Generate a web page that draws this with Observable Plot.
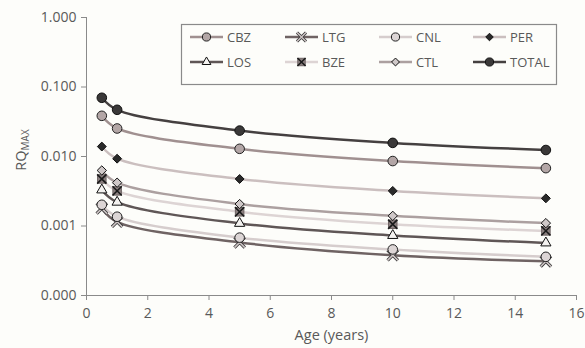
<!DOCTYPE html>
<html><head><meta charset="utf-8">
<script src="https://cdn.jsdelivr.net/npm/d3@7"></script>
<script src="https://cdn.jsdelivr.net/npm/@observablehq/plot@0.6"></script>
<style>
body{margin:0;background:#fdfdfa;}
#wrap{position:relative;width:585px;height:348px;font-family:"Open Sans",sans-serif;}
#legend{position:absolute;left:0;top:0;pointer-events:none;}
</style></head>
<body><div id="wrap"></div>
<script>
const ages = [0.5, 1, 5, 10, 15];
const seriesNames = ["CBZ","LTG","CNL","PER","LOS","BZE","CTL","TOTAL"];
const CBZ   = [0.0385, 0.0253, 0.0129, 0.0086, 0.0068];
const LTG   = [0.00179, 0.00115, 0.00058, 0.00038, 0.00031];
const CNL   = [0.00202, 0.00136, 0.00068, 0.00046, 0.00036];
const PER   = [0.0139, 0.0093, 0.00475, 0.0032, 0.0025];
const LOS   = [0.0033, 0.0022, 0.00109, 0.00073, 0.00057];
const BZE   = [0.00475, 0.0032, 0.0016, 0.00106, 0.00085];
const CTL   = [0.0063, 0.0042, 0.00207, 0.0014, 0.0011];
const TOTAL = [0.070, 0.047, 0.0236, 0.0157, 0.0124];
const yTicks = [0.0001, 0.001, 0.01, 0.1, 1];
const xTicks = [0, 2, 4, 6, 8, 10, 12, 14, 16];

const values = {CBZ, LTG, CNL, PER, LOS, BZE, CTL, TOTAL};
const style = {
  CBZ:   {line:"#a09090", sym:"circle",   fill:"#b3a6a6", stroke:"#222", r:4.8},
  LTG:   {line:"#6f6363", sym:"times",    fill:"none",    stroke:"#c9c0c0", r:4.8},
  CNL:   {line:"#d6cdcd", sym:"circle",   fill:"#dcd5d5", stroke:"#222", r:4.8},
  PER:   {line:"#cbbfbf", sym:"diamond2", fill:"#2a2a2a", stroke:"#111", r:4},
  LOS:   {line:"#5f5656", sym:"triangle", fill:"#f4f2f0", stroke:"#111", r:3.8},
  BZE:   {line:"#ddd4d4", sym:"square",   fill:"#8c8080", stroke:"#8c8080", r:4.8},
  CTL:   {line:"#aca0a0", sym:"diamond2", fill:"#cfc8c8", stroke:"#111", r:4.2},
  TOTAL: {line:"#454040", sym:"circle",   fill:"#3a3838", stroke:"#111", r:4.8}
};
const rows = seriesNames.flatMap(s => ages.map((a,i) => ({series:s, age:a, v:values[s][i]})));

const marks = [
  Plot.ruleX([0], {stroke:"#8a8a8a"}),
  Plot.ruleY([0.0001], {stroke:"#8a8a8a"}),
  Plot.axisY(yTicks, {tickFormat: d => d.toFixed(3), tickSize:5, stroke:"#8a8a8a", fill:"#595959", fontSize:14, label:null, tickPadding:5}),
  Plot.axisX(xTicks, {tickSize:5, stroke:"#8a8a8a", fill:"#595959", fontSize:14, label:null, tickPadding:8}),
];
for (const s of seriesNames) {
  const st = style[s];
  const d = rows.filter(r => r.series === s);
  marks.push(Plot.line(d, {x:"age", y:"v", stroke:st.line, strokeWidth:2.5, curve:"catmull-rom"}));
}
for (const s of seriesNames) {
  const st = style[s];
  const d = rows.filter(r => r.series === s);
  if (s === "LTG") {
    marks.push(Plot.dot(d, {x:"age", y:"v", symbol:"times", r:st.r, stroke:"#333", strokeWidth:3.2}));
    marks.push(Plot.dot(d, {x:"age", y:"v", symbol:"times", r:st.r, stroke:"#cfc6c6", strokeWidth:1.6}));
  } else if (s === "BZE") {
    marks.push(Plot.dot(d, {x:"age", y:"v", symbol:"square", r:st.r, fill:"#8c8080", stroke:"#6d6363", strokeWidth:1}));
    marks.push(Plot.dot(d, {x:"age", y:"v", symbol:"times", r:4.3, stroke:"#1a1a1a", strokeWidth:1.6}));
  } else {
    marks.push(Plot.dot(d, {x:"age", y:"v", symbol:st.sym, r:st.r, fill:st.fill, stroke:st.stroke, strokeWidth:1}));
  }
}
marks.push(Plot.text(["Age (years)"], {frameAnchor:"bottom", dy:44, text:d=>d, fill:"#595959", fontSize:14.5}));

const chart = Plot.plot({
  width:585, height:348,
  marginLeft:86, marginRight:9, marginTop:17, marginBottom:53,
  style:{background:"#fdfdfa", fontFamily:"Open Sans, sans-serif"},
  x:{domain:[0,16]},
  y:{type:"log", domain:[0.0001, 1]},
  marks
});
document.getElementById("wrap").appendChild(chart);

// Y axis title with subscript
const svg = d3.select(chart);
const yt = svg.append("text").attr("transform","translate(26,150) rotate(-90)")
  .attr("text-anchor","middle").attr("fill","#595959").attr("font-size",14.5)
  .attr("font-family","Open Sans, sans-serif");
yt.append("tspan").text("RQ");
yt.append("tspan").attr("font-size",10).attr("dy",3).text("MAX");

// Legend
const lg = d3.select("#wrap").append("svg").attr("id","legend").attr("width",585).attr("height",348);
lg.append("rect").attr("x",181.5).attr("y",24.5).attr("width",375).attr("height",60)
  .attr("fill","#fdfdfa").attr("stroke","#8a8a8a").attr("stroke-width",1.2);
const colX = [190, 285, 379, 473];
const rowY = [37, 62];
const map = {circle:d3.symbolCircle, times:d3.symbolTimes, diamond2:d3.symbolDiamond2, triangle:d3.symbolTriangle, square:d3.symbolSquare};
seriesNames.forEach((s,i) => {
  const st = style[s];
  const x0 = colX[i%4], y0 = rowY[Math.floor(i/4)];
  const g = lg.append("g").attr("transform",`translate(${x0},${y0})`);
  g.append("line").attr("x1",0).attr("x2",33).attr("y1",0).attr("y2",0).attr("stroke",st.line).attr("stroke-width",2.5);
  const p = (type, rr, attrs) => { const e = g.append("path").attr("transform","translate(16.5,0)").attr("d", d3.symbol().type(map[type]).size(Math.PI*rr*rr)()); for (const k in attrs) e.attr(k, attrs[k]); };
  if (s === "LTG") {
    p("times",4.2,{fill:"none",stroke:"#333","stroke-width":3});
    p("times",4.2,{fill:"none",stroke:"#cfc6c6","stroke-width":1.5});
  } else if (s === "BZE") {
    p("square",4.2,{fill:"#8c8080",stroke:"#6d6363"});
    p("times",3.8,{fill:"none",stroke:"#1a1a1a","stroke-width":1.5});
  } else {
    p(st.sym, st.r*0.85, {fill:st.fill,stroke:st.stroke});
  }
  g.append("text").attr("x",37).attr("y",4.5).attr("fill","#595959").attr("font-size",13)
    .attr("font-family","Open Sans, sans-serif").text(s);
});
</script></body></html>
